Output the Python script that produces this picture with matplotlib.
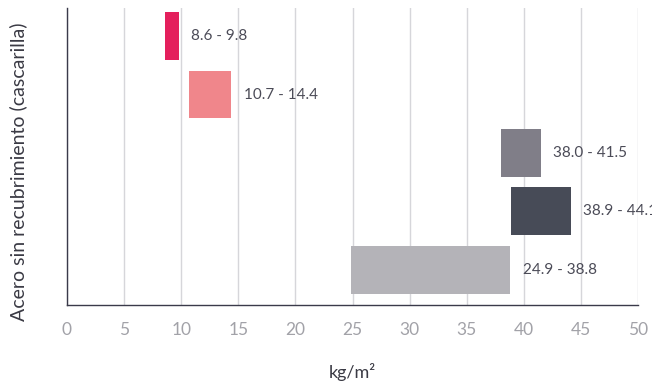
import matplotlib.pyplot as plt

plt.rcParams['font.family'] = ['Lato', 'DejaVu Sans']

# rangos de peso por material (kg/m²)
inicio = [8.6, 10.7, 38.0, 38.9, 24.9]
fin = [9.8, 14.4, 41.5, 44.1, 38.8]
colores = ['#e41f5c', '#f0868b', '#807e88', '#474b57', '#b4b3b8']
ticks = [0, 5, 10, 15, 20, 25, 30, 35, 40, 45, 50]

fig = plt.figure(figsize=(6.52, 3.87), dpi=100)
ax = fig.add_axes([67 / 652, 1 - 305 / 387, (638 - 67) / 652, (305 - 8) / 387])

posiciones = list(range(len(inicio)))
anchos = [f - i for i, f in zip(inicio, fin)]
ax.barh(posiciones, anchos, left=inicio, height=0.82, color=colores, zorder=3)

for p, i, f in zip(posiciones, inicio, fin):
    ax.annotate(f'{i:.1f} - {f:.1f}', xy=(f, p), xytext=(9, 0),
                textcoords='offset points', va='center', ha='left',
                fontsize=11, color='#4b4b57', annotation_clip=False)

ax.set_xlim(0, 50)
ax.set_ylim(4.6, -0.48)
ax.set_xticks(ticks)
ax.set_yticks([])
ax.tick_params(axis='x', length=0, pad=12, labelsize=12.5, labelcolor='#a2a2a8')
ax.grid(axis='x', color='#d6d6da', linewidth=1, zorder=0)

for s in ['top', 'right']:
    ax.spines[s].set_visible(False)
for s in ['left', 'bottom']:
    ax.spines[s].set_color('#3a3a4a')
    ax.spines[s].set_linewidth(1)

ax.set_xlabel('kg/m²', fontsize=13, color='#3a3a44', labelpad=18)
ax.set_ylabel('Acero sin recubrimiento (cascarilla)', fontsize=14,
              color='#3a3a44')
ax.yaxis.set_label_coords(-0.07, 0.45)

fig.savefig('out.png', dpi=100)
